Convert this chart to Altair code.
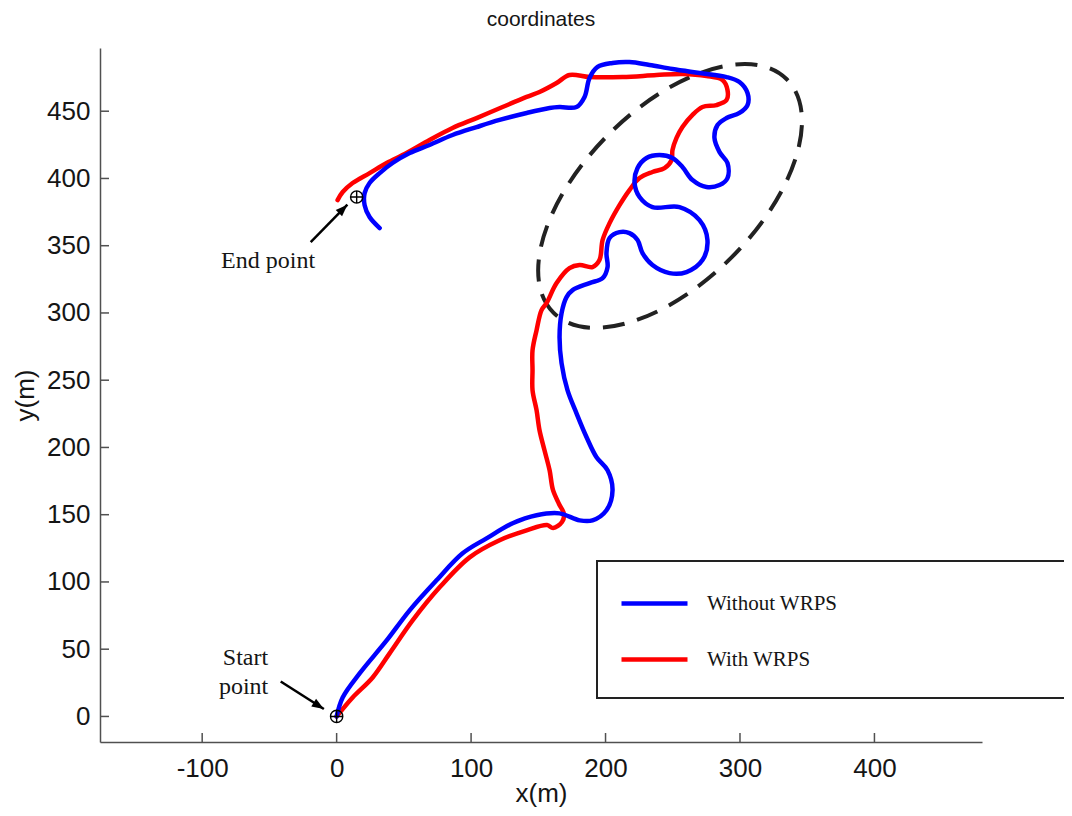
import altair as alt
import pandas as pd

# ---------------- data ----------------
chart_title = "coordinates"
series_names = ["Without WRPS", "With WRPS"]
series_colors = ["#0000ff", "#ff0000"]

blue_path = [
    (0, 0), (4.5, 14.1), (17.1, 32.0), (37.2, 56.5), (54.3, 78.9), (74.3, 101.2),
    (93.7, 121.3), (111.5, 132.4), (130.9, 143.6), (148.7, 149.6), (165.8, 151.0),
    (180.7, 145.8), (190.3, 145.8), (200.7, 153.3), (205.2, 168.2), (201.5, 183.0),
    (193.3, 192.7), (185.9, 207.6), (178.4, 225.4), (171.7, 242.6), (167.3, 262.6),
    (165.8, 282.0), (167.3, 299.9), (171.0, 311.8), (175.5, 317.0), (188.1, 322.2),
    (197.8, 325.9), (201.5, 334.1), (200.7, 344.5), (203.0, 355.7), (210.4, 360.1),
    (217.8, 359.4), (223.8, 354.2), (227.5, 344.5), (234.9, 335.6), (247.6, 329.6),
    (260.2, 330.4), (272.1, 339.3), (275.8, 354.2), (269.9, 369.0), (255.0, 378.7),
    (234.9, 378.7), (225.3, 386.2), (221.6, 396.6), (223.8, 407.7), (230.5, 415.2),
    (240.1, 417.4), (249.8, 415.2), (257.2, 408.5), (264.7, 398.8), (275.1, 393.6),
    (284.8, 395.1), (290.7, 400.3), (290.7, 411.5), (284.8, 419.6), (281.0, 430.1),
    (283.3, 439.7), (290.0, 444.9), (299.6, 448.7), (305.6, 454.6), (305.6, 463.5),
    (299.6, 471.7), (290.0, 475.4), (269.9, 478.4), (249.8, 481.4), (232.7, 484.4),
    (217.8, 486.6), (205.2, 485.9), (194.1, 482.9), (188.1, 474.7), (184.4, 460.6),
    (178.4, 453.1), (165.8, 453.1), (158.4, 452.4), (141.3, 448.7), (121.2, 443.5),
    (104.1, 438.2), (86.2, 432.3), (69.1, 424.9), (54.3, 418.9), (41.6, 411.5),
    (32.0, 404.0), (24.5, 396.6), (20.8, 389.1), (20.8, 380.2), (24.5, 371.3),
    (32.0, 363.1),
]

red_path = [
    (0, 0), (11.9, 14.1), (26.8, 29.0), (39.4, 46.9), (56.5, 71.4), (76.6, 96.0),
    (98.9, 118.3), (121.2, 131.0), (141.3, 138.4), (156.5, 142.3), (161.0, 140.1),
    (167.6, 144.6), (169.1, 150.5), (165.4, 158.0), (160.9, 168.4), (158.4, 183.0),
    (154.6, 197.9), (150.9, 212.8), (148.7, 227.7), (145.7, 242.6), (145.7, 257.4),
    (145.7, 272.3), (148.7, 287.2), (152.4, 302.1), (156.1, 307.3), (163.6, 322.2),
    (173.2, 333.3), (180.7, 335.6), (190.3, 334.1), (195.5, 339.3), (197.8, 354.2),
    (203.0, 366.8), (210.4, 380.2), (217.8, 391.4), (225.3, 400.3), (234.9, 404.8),
    (243.9, 407.7), (249.1, 413.7), (249.8, 421.1), (252.8, 430.1), (257.2, 438.2),
    (264.7, 447.2), (272.1, 453.1), (282.5, 454.6), (290.0, 458.3), (290.7, 465.8),
    (287.0, 473.2), (275.1, 476.2), (257.2, 477.7), (237.9, 476.9), (212.6, 475.4),
    (188.1, 475.4), (173.2, 476.9), (163.6, 471.0), (150.9, 464.3), (141.3, 460.6),
    (123.4, 453.1), (104.1, 444.9), (86.2, 437.5), (69.1, 428.6), (52.0, 418.9),
    (37.2, 411.5), (24.5, 404.0), (11.9, 396.6), (4.5, 389.9), (0.7, 383.9),
]

x_ticks = [-100, 0, 100, 200, 300, 400]
y_ticks = [0, 50, 100, 150, 200, 250, 300, 350, 400, 450]

marker_x = [0, 14.9]
marker_y = [0, 386.2]

ellipse_x = [248]
ellipse_y = [387]

arrow_tail_x = [-19.3, -41.6]
arrow_tail_y = [352.7, 26.0]
arrow_tip_x = [8.0, -9.5]
arrow_tip_y = [380.5, 5.5]
arrow_angle = [45, 122]

note_text = ["End point", "Start", "point"]
note_x = [-51.0, -67.8, -69.2]
note_y = [338.6, 43.2, 21.6]

# ---------------- layout / style ----------------
W, H = 882, 694
X_DOM = [-176, 480]
Y_DOM = [-19, 497]

xs = alt.Scale(domain=X_DOM, nice=False, zero=False)
ys = alt.Scale(domain=Y_DOM, nice=False, zero=False)

AXIS_GRAY = "#505050"
TEXT = "#151515"
TICK_LEN = 9
common_axis = dict(
    domainColor=AXIS_GRAY, domainWidth=1.5, ticks=False, tickSize=0, grid=False,
    labelFont="Liberation Sans", labelFontSize=26, labelColor=TEXT,
    labelExpr="replace(datum.label, '\u2212', '-')",
    titleFont="Liberation Sans", titleFontSize=26, titleFontWeight="normal",
    titleColor=TEXT,
)
x_axis = alt.Axis(values=x_ticks, title="x(m)", labelPadding=13, titleY=59,
                  titleBaseline="alphabetic", **common_axis)
y_axis = alt.Axis(values=y_ticks, title="y(m)", labelPadding=10, titleX=-75,
                  titleY=H / 2, titleAngle=270, titleAlign="center",
                  titleBaseline="middle", **common_axis)


def X(field):
    return alt.X(field, type="quantitative", scale=xs, axis=x_axis)


def Y(field):
    return alt.Y(field, type="quantitative", scale=ys, axis=y_axis)


legend = alt.Legend(
    orient="none", legendX=519, legendY=520, title=None,
    symbolType="stroke", symbolSize=4356, symbolStrokeWidth=4.5,
    labelFont="Liberation Serif", labelFontSize=21, labelColor=TEXT,
    labelOffset=17, rowPadding=10, padding=0,
)
color = alt.Color("series:N", scale=alt.Scale(domain=series_names, range=series_colors),
                  legend=legend)


def path_df(path, name):
    return pd.DataFrame({
        "x": [p[0] for p in path],
        "y": [p[1] for p in path],
        "i": list(range(len(path))),
        "series": name,
    })


line_style = dict(strokeWidth=4.5, interpolate="catmull-rom", strokeCap="round",
                  strokeJoin="round")

red_line = alt.Chart(path_df(red_path, series_names[1])).mark_line(**line_style).encode(
    x=X("x"), y=Y("y"), order="i:Q", color=color)
blue_line = alt.Chart(path_df(blue_path, series_names[0])).mark_line(**line_style).encode(
    x=X("x"), y=Y("y"), order="i:Q", color=color)

# inward tick marks
x_tick_marks = alt.Chart(pd.DataFrame({"x": x_ticks})).mark_rule(
    color=AXIS_GRAY, strokeWidth=1.5).encode(
    x=X("x"), y=alt.value(H), y2=alt.value(H - TICK_LEN))
y_tick_marks = alt.Chart(pd.DataFrame({"y": y_ticks})).mark_rule(
    color=AXIS_GRAY, strokeWidth=1.5).encode(
    y=Y("y"), x=alt.value(0), x2=alt.value(TICK_LEN))

# dashed ellipse highlighting the detour zone
ELLIPSE = "M -1 0 A 1 0.527 0 1 1 1 0 A 1 0.527 0 1 1 -1 0 Z"
ellipse = alt.Chart(pd.DataFrame({"x": ellipse_x, "y": ellipse_y})).mark_point(
    shape=ELLIPSE, size=108900, angle=315, filled=False, stroke="#222222",
    strokeWidth=4, strokeDash=[22, 13], opacity=1).encode(x=X("x"), y=Y("y"))

# start / end markers
CIRCLE_PLUS = ("M -1 0 A 1 1 0 1 1 1 0 A 1 1 0 1 1 -1 0 Z "
               "M -1 0 L 1 0 M 0 -1 L 0 1")
markers = alt.Chart(pd.DataFrame({"x": marker_x, "y": marker_y})).mark_point(
    shape=CIRCLE_PLUS, size=150, filled=False, stroke="#000000", strokeWidth=1.4,
    opacity=1).encode(x=X("x"), y=Y("y"))

# arrows
arrow_df = pd.DataFrame({"x": arrow_tail_x, "y": arrow_tail_y,
                         "x2": arrow_tip_x, "y2": arrow_tip_y, "a": arrow_angle})
shafts = alt.Chart(arrow_df).mark_rule(color="#000000", strokeWidth=2.5).encode(
    x=X("x"), y=Y("y"), x2="x2:Q", y2="y2:Q")
heads = alt.Chart(arrow_df).mark_point(
    shape="M 0 0 L 0.75 2 L -0.75 2 Z", size=144, filled=True, color="#000000",
    opacity=1).encode(x=X("x2"), y=Y("y2"), angle=alt.Angle("a:Q", scale=None))

notes = alt.Chart(pd.DataFrame({"x": note_x, "y": note_y, "t": note_text})).mark_text(
    font="Liberation Serif", fontSize=24, color=TEXT, align="center",
    baseline="middle").encode(x=X("x"), y=Y("y"), text="t:N")

# legend frame
legend_box = alt.Chart(pd.DataFrame({"k": [0]})).mark_rect(
    fillOpacity=0, stroke="#222222", strokeWidth=2).encode(
    x=alt.value(497), x2=alt.value(1020), y=alt.value(513), y2=alt.value(650))

# chart title, placed over the centre of the plot area
title_mark = alt.Chart(pd.DataFrame({"t": [chart_title]})).mark_text(
    font="Liberation Sans", fontSize=21, color=TEXT, align="center",
    baseline="alphabetic").encode(x=alt.value(W / 2), y=alt.value(-22), text="t:N")

chart = alt.layer(
    legend_box, x_tick_marks, y_tick_marks, ellipse, red_line, blue_line,
    shafts, heads, markers, notes, title_mark,
).properties(
    width=W, height=H,
    autosize=alt.AutoSizeParams(type="none"),
    padding={"left": 92, "top": 40, "right": 82, "bottom": 66},
).configure_view(strokeWidth=0)

chart.save("out.html", embed_options={"renderer": "svg", "actions": False})
